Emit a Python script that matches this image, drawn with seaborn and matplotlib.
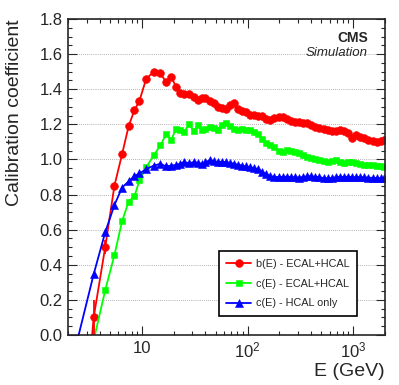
import numpy as np
import pandas as pd
import seaborn as sns
import matplotlib
matplotlib.use('Agg')
import matplotlib.pyplot as plt
from matplotlib.ticker import MultipleLocator, LogLocator, FuncFormatter, FormatStrFormatter, NullFormatter

# energy points (GeV)
energy = [2.5, 3.5, 4.5, 5.5, 6.5, 7.5, 8.5, 9.5,
          11, 13, 15, 17, 19, 21, 23, 25,
          28, 31, 34, 37, 40, 44, 48, 52, 57, 62,
          68, 74, 81, 88, 96, 105, 115, 125, 137, 150,
          164, 180, 197, 215, 235, 257, 281, 307, 336, 367,
          401, 438, 479, 524, 573, 626, 684, 748, 818, 894,
          977, 1068, 1167, 1276, 1395, 1525, 1667, 1822, 1960]

b_ecal_hcal = [-0.9, 0.10, 0.50, 0.85, 1.03, 1.19, 1.28, 1.335,
               1.46, 1.50, 1.49, 1.44, 1.47, 1.415, 1.38, 1.37,
               1.37, 1.355, 1.34, 1.35, 1.35, 1.335, 1.32, 1.30, 1.295, 1.29,
               1.31, 1.32, 1.285, 1.275, 1.27, 1.255, 1.255, 1.25, 1.245, 1.23,
               1.225, 1.235, 1.24, 1.24, 1.23, 1.22, 1.215, 1.215, 1.21, 1.205,
               1.195, 1.185, 1.18, 1.175, 1.165, 1.16, 1.16, 1.165, 1.16, 1.15,
               1.12, 1.14, 1.125, 1.12, 1.11, 1.105, 1.10, 1.105, 1.11]

c_ecal_hcal = [np.nan, -0.03, 0.255, 0.455, 0.648, 0.76, 0.79, 0.88,
               0.955, 1.025, 1.08, 1.145, 1.11, 1.175, 1.165, 1.155,
               1.20, 1.16, 1.195, 1.17, 1.175, 1.185, 1.18, 1.17, 1.195, 1.205,
               1.19, 1.175, 1.17, 1.175, 1.17, 1.165, 1.155, 1.145, 1.115, 1.095,
               1.085, 1.07, 1.05, 1.045, 1.053, 1.048, 1.043, 1.035, 1.025, 1.016,
               1.01, 1.005, 0.998, 0.993, 0.988, 0.99, 0.995, 0.985, 0.978, 0.985,
               0.983, 0.978, 0.972, 0.968, 0.968, 0.966, 0.963, 0.96, 0.958]

c_hcal_only = [-0.01, 0.346, 0.585, 0.74, 0.84, 0.875, 0.905, 0.92,
               0.945, 0.965, 0.975, 0.96, 0.965, 0.968, 0.975, 0.985,
               0.978, 0.985, 0.98, 0.975, 0.985, 0.995, 0.99, 0.985, 0.987, 0.985,
               0.98, 0.975, 0.97, 0.965, 0.96, 0.955, 0.95, 0.945, 0.93, 0.915,
               0.905, 0.90, 0.90, 0.90, 0.902, 0.90, 0.898, 0.897, 0.90, 0.903,
               0.905, 0.90, 0.90, 0.893, 0.893, 0.895, 0.898, 0.902, 0.90, 0.902,
               0.90, 0.898, 0.90, 0.898, 0.896, 0.895, 0.893, 0.893, 0.892]

# visible error bars at low energy (b(E) only)
err_energy = [3.5, 4.5]
err_b = [0.10, 0.04]
err_b_val = [0.10, 0.50]

labels = ['b(E) - ECAL+HCAL', 'c(E) - ECAL+HCAL', 'c(E) - HCAL only']

sns.set_style('ticks')
plt.rcParams['font.family'] = ['Liberation Sans', 'DejaVu Sans']
plt.rcParams['mathtext.fontset'] = 'custom'
plt.rcParams['mathtext.rm'] = 'Liberation Sans'
plt.rcParams['mathtext.it'] = 'Liberation Sans:italic'
plt.rcParams['mathtext.bf'] = 'Liberation Sans:bold'

fig = plt.figure(figsize=(3.99, 3.85), dpi=100)
ax = fig.add_axes([0.1704, 0.1299, 0.7945, 0.8208])

series = [(b_ecal_hcal, '#ff0000', 'o', 5.6),
          (c_ecal_hcal, '#00ff00', 's', 5.0),
          (c_hcal_only, '#0000ff', '^', 5.4)]
for (vals, col, mk, ms), lab in zip(series, labels):
    sns.lineplot(x=energy, y=vals, ax=ax, color=col, marker=mk, markersize=ms,
                 markeredgecolor=col, markeredgewidth=0.4, linewidth=1.3,
                 estimator=None, errorbar=None, sort=False, label=lab)

ax.errorbar(err_energy, err_b_val, yerr=err_b, fmt='none', ecolor='#ff0000', elinewidth=1.3)

ax.set_xscale('log')
ax.set_xlim(2, 2000)
ax.set_ylim(0, 1.8)

ax.yaxis.set_major_locator(MultipleLocator(0.2))
ax.yaxis.set_minor_locator(MultipleLocator(0.05))
ax.yaxis.set_major_formatter(FormatStrFormatter('%.1f'))
ax.xaxis.set_major_locator(LogLocator(base=10, numticks=10))
ax.xaxis.set_minor_locator(LogLocator(base=10, subs=np.arange(2, 10), numticks=20))
ax.xaxis.set_minor_formatter(NullFormatter())
ax.xaxis.set_major_formatter(FuncFormatter(
    lambda v, p: '10' if abs(v - 10) < 1e-6 else r'$10^{%d}$' % round(np.log10(v))))

ax.yaxis.grid(True, which='major', linestyle=(0, (1, 1.5)), color='#999999', linewidth=0.6)
ax.set_axisbelow(True)

ax.tick_params(which='both', direction='in', top=True, right=True, width=0.8, labelsize=12)
ax.tick_params(which='major', length=6.5, pad=4)
ax.tick_params(which='minor', length=3.2)
for s in ax.spines.values():
    s.set_linewidth(1.2)

ax.set_xlabel('E (GeV)', loc='right', fontsize=14, labelpad=2)
ax.set_ylabel('Calibration coefficient', loc='top', fontsize=14, labelpad=12)

ax.text(0.946, 0.94, 'CMS', transform=ax.transAxes, ha='right', va='center',
        fontsize=10, fontweight='bold')
ax.text(0.946, 0.891, 'Simulation', transform=ax.transAxes, ha='right', va='center',
        fontsize=9.5, fontstyle='italic')

leg = ax.legend(loc='lower left', bbox_to_anchor=(0.476, 0.06), fontsize=7.8,
                handlelength=2.3, handletextpad=0.4, labelspacing=0.9,
                borderpad=0.7, fancybox=False, framealpha=1, edgecolor='black',
                borderaxespad=0, numpoints=1)
leg.get_frame().set_linewidth(1.2)

fig.savefig('out.png', dpi=100)
